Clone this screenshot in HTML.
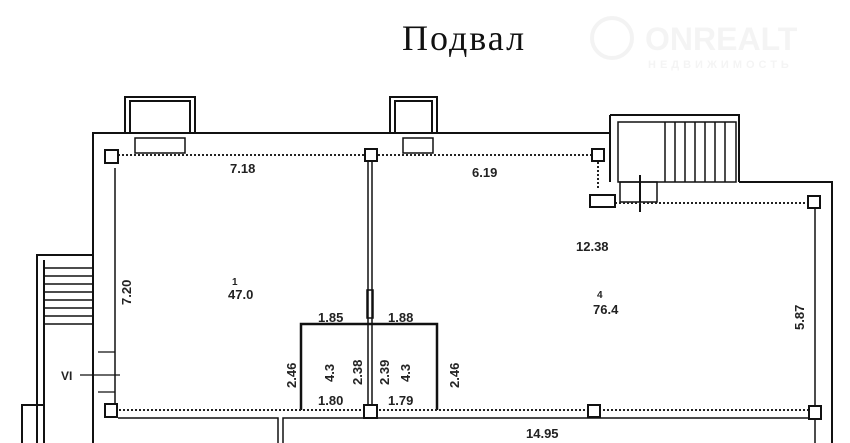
<!DOCTYPE html>
<html><head><meta charset="utf-8"><style>
body{margin:0;background:#fff;width:850px;height:443px;overflow:hidden}
svg{display:block}
text{font-family:"Liberation Sans",sans-serif;font-weight:bold;fill:#222}
</style></head><body>
<svg width="850" height="443" viewBox="0 0 850 443" xmlns="http://www.w3.org/2000/svg">
<text x="402" y="50" style="font-family:'Liberation Serif',serif;font-weight:normal;font-size:36px;letter-spacing:2px;fill:#111">Подвал</text>
<g opacity="0.1">
<circle cx="612" cy="38" r="20" fill="none" stroke="#888" stroke-width="4"/>
<text x="645" y="50" style="font-size:32px;fill:#999">ONREALT</text>
<text x="648" y="68" style="font-size:11px;fill:#999;letter-spacing:4px">НЕДВИЖИМОСТЬ</text>
</g>
<g stroke="#111" fill="none" stroke-width="2">
<path d="M93 443 V133 H610 M739 182 H832 V443"/>
<path d="M125 133 V97 H195 V133 M130 133 V101 H190 V133"/>
<path d="M390 133 V97 H437 V133 M395 133 V101 H432 V133"/>
<rect x="135" y="138" width="50" height="15" stroke-width="1.5"/>
<rect x="403" y="138" width="30" height="15" stroke-width="1.5"/>
<path d="M610 115 H739 V182 M610 115 V182" />
<rect x="618" y="122" width="118" height="60" stroke-width="1.5"/>
<path d="M665 122V182 M675 122V182 M685 122V182 M695 122V182 M705 122V182 M715 122V182 M725 122V182" stroke-width="1.5"/>
<rect x="620" y="182" width="37" height="20" stroke-width="1.5"/>
<path d="M640 175 V212"/>
<path d="M815 203 V443" stroke-width="1.5"/>
<path d="M115 168 V405" stroke-width="1.5"/>
<path d="M37 443 V255 H93 M44 443 V260"/>
<path d="M44 268H93 M44 276H93 M44 284H93 M44 292H93 M44 300H93 M44 308H93 M44 316H93 M44 324H93" stroke-width="1.5"/>
<path d="M98 352H115 M98 392H115 M80 375H120" stroke-width="1.2"/>
<path d="M22 443 V405 H45" />
<path d="M301 410 V324 H437 V410" stroke-width="2.5"/>
<rect x="368" y="160" width="4" height="250" stroke-width="1.5"/>
<rect x="367" y="290" width="6" height="28" stroke-width="1.5"/>
<path d="M118 418 H278 V443 M283 443 V418 H810" stroke-width="1.5"/>
</g>
<g stroke="#222" stroke-width="2" stroke-dasharray="2 2" fill="none">
<path d="M118 155 H598 M115 410 H813 M598 162 V190 M603 203 H813"/>
</g>
<g fill="#fff" stroke="#111" stroke-width="2">
<rect x="105" y="150" width="13" height="13"/>
<rect x="365" y="149" width="12" height="12"/>
<rect x="592" y="149" width="12" height="12"/>
<rect x="590" y="195" width="25" height="12"/>
<rect x="808" y="196" width="12" height="12"/>
<rect x="105" y="404" width="12" height="13"/>
<rect x="364" y="405" width="13" height="13"/>
<rect x="588" y="405" width="12" height="12"/>
<rect x="809" y="406" width="12" height="13"/>
</g>
<g style="font-size:13px">
<text x="230" y="173">7.18</text>
<text x="472" y="177">6.19</text>
<text x="576" y="251">12.38</text>
<text x="228" y="299">47.0</text>
<text x="232" y="285" style="font-size:10px">1</text>
<text x="593" y="314">76.4</text>
<text x="597" y="298" style="font-size:10px">4</text>
<text x="318" y="322">1.85</text>
<text x="388" y="322">1.88</text>
<text x="318" y="405">1.80</text>
<text x="388" y="405">1.79</text>
<text x="526" y="438">14.95</text>
<text x="61" y="380" style="font-size:12px">VI</text>
<text transform="translate(131,305) rotate(-90)">7.20</text>
<text transform="translate(804,330) rotate(-90)">5.87</text>
<text transform="translate(296,388) rotate(-90)">2.46</text>
<text transform="translate(459,388) rotate(-90)">2.46</text>
<text transform="translate(362,385) rotate(-90)">2.38</text>
<text transform="translate(389,385) rotate(-90)">2.39</text>
<text transform="translate(334,382) rotate(-90)">4.3</text>
<text transform="translate(410,382) rotate(-90)">4.3</text>
</g>
</svg>
</body></html>
